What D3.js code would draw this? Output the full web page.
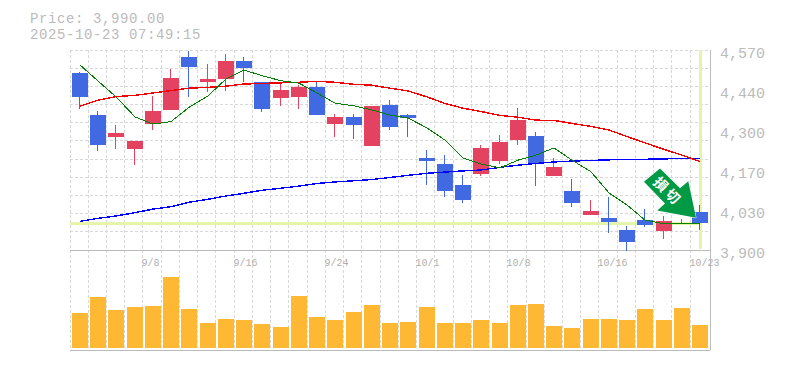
<!DOCTYPE html>
<html><head><meta charset="utf-8">
<script src="https://cdn.jsdelivr.net/npm/d3@7"></script>
<style>html,body{margin:0;padding:0;background:#fff}svg{display:block}text{font-family:"Liberation Mono","DejaVu Sans Mono",monospace}</style>
</head><body><svg id="c" width="785" height="370"></svg>
<script>
const dates=["9/2","9/3","9/4","9/5","9/8","9/9","9/10","9/11","9/12","9/16","9/17","9/18","9/19","9/22","9/24","9/25","9/26","9/29","9/30","10/1","10/2","10/3","10/6","10/7","10/8","10/9","10/10","10/14","10/15","10/16","10/17","10/20","10/21","10/22","10/23"];
const tickDates=["9/8","9/16","9/24","10/1","10/8","10/16","10/23"];
const priceTicks=[4570,4440,4300,4170,4030,3900];
const open =[4494,4352,4278,4239,4322,4370,4546,4463,4473,4533,4463,4409,4413,4446,4322,4346,4248,4386,4352,4208,4188,4118,4155,4198,4268,4282,4148,4098,4017,4007,3967,4000,3964,3987,4027];
const close=[4413,4253,4292,4265,4366,4476,4514,4473,4533,4510,4372,4436,4446,4352,4346,4319,4382,4312,4342,4198,4098,4067,4242,4262,4335,4188,4178,4057,4031,3994,3927,3984,3997,3990,3990];
const high =[4496,4366,4319,4265,4416,4506,4567,4523,4557,4546,4463,4456,4453,4463,4356,4356,4382,4402,4356,4235,4218,4151,4252,4285,4376,4295,4208,4138,4067,4078,3980,4037,4014,4004,4051];
const low  =[4373,4233,4239,4186,4302,4369,4414,4429,4433,4463,4362,4382,4372,4352,4278,4272,4248,4302,4278,4118,4078,4057,4148,4188,4252,4114,4148,4044,4017,3957,3898,3977,3937,3987,3967];
const ma5  =[4520,4466,4413,4346,4322,4330,4378,4416,4473,4503,4484,4467,4459,4426,4392,4383,4369,4352,4342,4309,4268,4208,4188,4175,4201,4218,4242,4201,4162,4091,4051,4000,3988,3989,3990];
const ma25 =[4382,4402,4414,4418,4426,4434,4442,4445,4449,4456,4458,4460,4462,4465,4462,4455,4452,4442,4433,4413,4391,4375,4364,4351,4345,4335,4334,4324,4314,4302,4280,4259,4237,4218,4196];
const ma75 =[3996,4006,4014,4025,4037,4045,4060,4070,4081,4090,4100,4107,4114,4123,4128,4132,4136,4143,4150,4157,4161,4165,4168,4177,4184,4190,4195,4198,4200,4202,4204,4204,4205,4207,4207];
const volume=[35,51,38,41,42,71,39,25,29,28,24,21,52,31,28,36,43,25,26,41,25,25,28,25,43,44,22,20,29,29,28,39,28,40,23];
const lastPrice=3990;
const stamp=["Price: 3,990.00","2025-10-23 07:49:15"];

const svg=d3.select("#c");
const grey="#bbb",gridC="#d8d8d8";
const x=d3.scaleBand().domain(dates).range([70,708.4]);
const y=d3.scaleLinear().domain([3900,4570]).range([250,50]);
const v=d3.scaleLinear().domain([0,98]).range([348,250]);
const left=d=>Math.round(x(d)+2), gridX=d=>Math.floor(x(d))+.5, mid=d=>left(d)+8;

// grid
const g=svg.append("g").attr("stroke",gridC).attr("stroke-width",1).attr("stroke-dasharray","3,2").attr("shape-rendering","crispEdges");
g.selectAll("line.v").data(dates).join("line").attr("class","v").attr("x1",gridX).attr("x2",gridX).attr("y1",50).attr("y2",350);
const hs=d3.range(0,11).map(i=>50+i*200/11);
g.selectAll("line.h").data(hs).join("line").attr("class","h").attr("x1",70).attr("x2",710).attr("y1",d=>Math.floor(d)+.5).attr("y2",d=>Math.floor(d)+.5);

// frame
const f=svg.append("g").attr("stroke",grey).attr("stroke-width",1).attr("shape-rendering","crispEdges");
f.append("line").attr("x1",70).attr("x2",710).attr("y1",y(3900)+.5).attr("y2",y(3900)+.5);
f.append("line").attr("x1",70).attr("x2",710).attr("y1",350.5).attr("y2",350.5);
f.append("line").attr("x1",710.5).attr("x2",710.5).attr("y1",50).attr("y2",350);

// highlight
const hl="#e4f5a8";
svg.append("rect").attr("x",mid(dates[34])-1).attr("width",3).attr("y",50).attr("height",199).attr("fill",hl);
svg.append("rect").attr("x",70).attr("width",632).attr("y",y(lastPrice)-1).attr("height",3).attr("fill",hl);

// volume
svg.append("g").selectAll("rect").data(dates).join("rect")
 .attr("x",left).attr("width",16).attr("fill","#ffb833")
 .attr("y",(d,i)=>Math.round(v(volume[i]))).attr("height",(d,i)=>348-Math.round(v(volume[i])));

// candles
const up="#e34360",down="#416ae2";
const cg=svg.append("g").attr("shape-rendering","crispEdges");
dates.forEach((d,i)=>{
 const col=close[i]>=open[i]?up:down;
 cg.append("rect").attr("x",left(d)+7).attr("width",1).attr("y",y(high[i])).attr("height",y(low[i])-y(high[i])).attr("fill",col);
 const t=y(Math.max(open[i],close[i])),b=y(Math.min(open[i],close[i]));
 cg.append("rect").attr("x",left(d)).attr("width",16).attr("y",t).attr("height",Math.max(1,b-t)).attr("fill",col);
});

// moving averages
const line=a=>d3.line().x(d=>mid(d)).y((d,i)=>y(a[i]));
[[ma75,"#0000ff",1.4],[ma25,"#f00000",1.4],[ma5,"#008000",1]].forEach(([a,col,w])=>{
 svg.append("path").datum(dates).attr("d",line(a)).attr("fill","none").attr("stroke",col).attr("stroke-width",w).attr("shape-rendering","crispEdges");
});

// labels
const tg=svg.append("g").attr("fill",grey);
tg.selectAll("text.p").data(priceTicks).join("text").attr("class","p").attr("x",720).attr("y",(d,i)=>58+i*40).attr("font-size",15).text(d3.format(","));
tg.selectAll("text.d").data(tickDates).join("text").attr("class","d").attr("x",d=>gridX(d)-1).attr("y",266).attr("font-size",10).attr("fill","#b0b0b0").text(d=>d);
tg.selectAll("text.s").data(stamp).join("text").attr("class","s").attr("x",30).attr("y",(d,i)=>22.5+i*16).attr("font-size",14).attr("letter-spacing",.6).text(d=>d);

// stop-loss arrow annotation, anchored at the last candle
const ag=svg.append("g").attr("transform",`translate(${mid(dates[34])},${y(lastPrice)})`);
ag.append("path").attr("d","M-40,-54.7 L-20,-35 L-11.7,-42 L-4,-5.3 L-42.7,-12.7 L-35,-19.7 L-56,-41.3 Z")
 .attr("fill","#009944").attr("stroke","#fff").attr("stroke-width",1).attr("stroke-linejoin","round").attr("paint-order","stroke");
ag.append("text").attr("transform","translate(-32,-32) rotate(45)").attr("text-anchor","middle").attr("dy",".38em").attr("font-size",14).attr("letter-spacing",3).attr("font-weight",700)
 .attr("fill","#fff").attr("style",'font-family:"Noto Sans CJK JP"').text("損切");
</script></body></html>
